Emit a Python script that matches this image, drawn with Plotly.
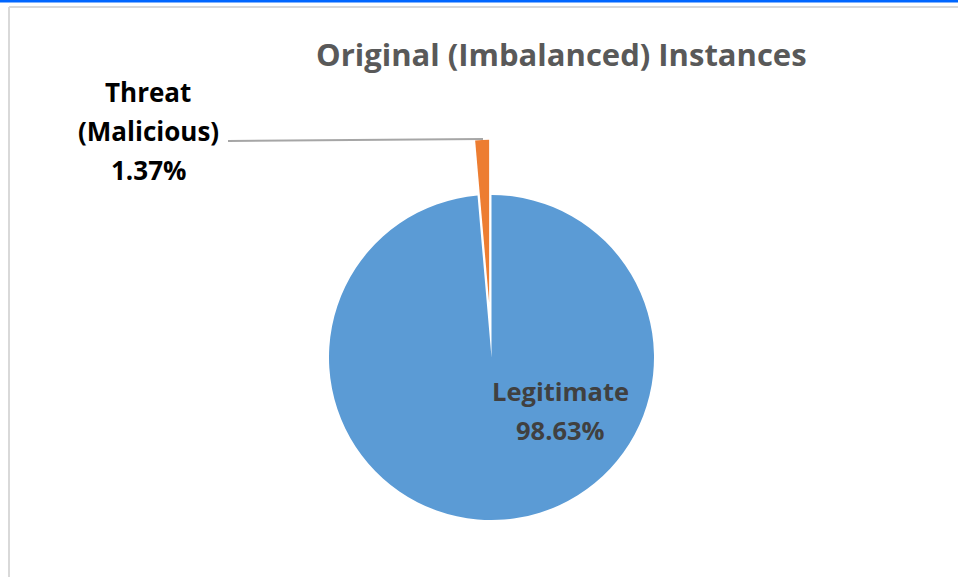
import plotly.graph_objects as go

# Class distribution of the original dataset (percent of instances)
categories = ["Legitimate", "Threat (Malicious)"]
shares = [98.63, 1.37]
colors = ["#5b9bd5", "#ed7d31"]
title_text = "Original (Imbalanced) Instances"

W, H = 958, 577
FONT = "Open Sans"


def px(x):
    return x / W


def py(y):
    return 1 - y / H


fig = go.Figure(
    go.Pie(
        labels=categories,
        values=shares,
        sort=False,
        direction="clockwise",
        rotation=0,
        pull=[0, 0.34],
        marker=dict(colors=colors, line=dict(width=0)),
        textinfo="none",
        hoverinfo="label+percent",
        showlegend=False,
        domain=dict(x=[px(273.75), px(709.25)], y=[py(575.25), py(139.75)]),
    )
)


def pct(v):
    return f"{v:.2f}%"


legit_label, threat_label = categories
threat_words = threat_label.split(" ")


def text_block(lines, cx, cy, size, color, spacing):
    """Centered multi-line bold label, one annotation per line."""
    out = []
    top = cy - spacing * (len(lines) - 1) / 2
    for i, line in enumerate(lines):
        out.append(dict(text=f"<b>{line}</b>", x=px(cx), y=py(top + i * spacing),
                        font=dict(family=FONT, size=size, color=color)))
    return out


annotations = []
annotations += text_block([title_text], 561, 54, 31, "#595959", 0)
annotations += text_block(threat_words + [pct(shares[1])], 148, 131, 26, "#000000", 39)
annotations += text_block([legit_label, pct(shares[0])], 560, 410, 25.5, "#404040", 39)
for a in annotations:
    a.update(xref="paper", yref="paper", showarrow=False,
             xanchor="center", yanchor="middle", align="center")

shapes = [
    # accent bar along the top edge
    dict(type="rect", xref="paper", yref="paper", x0=0, x1=1, y0=py(2.5), y1=1,
         fillcolor="#0066ff", line=dict(width=0)),
    # chart-area frame
    dict(type="line", xref="paper", yref="paper", x0=px(9), x1=1, y0=py(7), y1=py(7),
         line=dict(color="#d9d9d9", width=2)),
    dict(type="line", xref="paper", yref="paper", x0=px(9), x1=px(9), y0=py(7), y1=0,
         line=dict(color="#d9d9d9", width=2)),
    # leader line from the threat label to its slice
    dict(type="line", xref="paper", yref="paper", x0=px(228), x1=px(483),
         y0=py(141), y1=py(139), line=dict(color="#a6a6a6", width=2)),
]

fig.update_layout(
    width=W, height=H,
    margin=dict(l=0, r=0, t=0, b=0),
    paper_bgcolor="white",
    plot_bgcolor="white",
    annotations=annotations,
    shapes=shapes,
)

fig.write_html("out.html")
